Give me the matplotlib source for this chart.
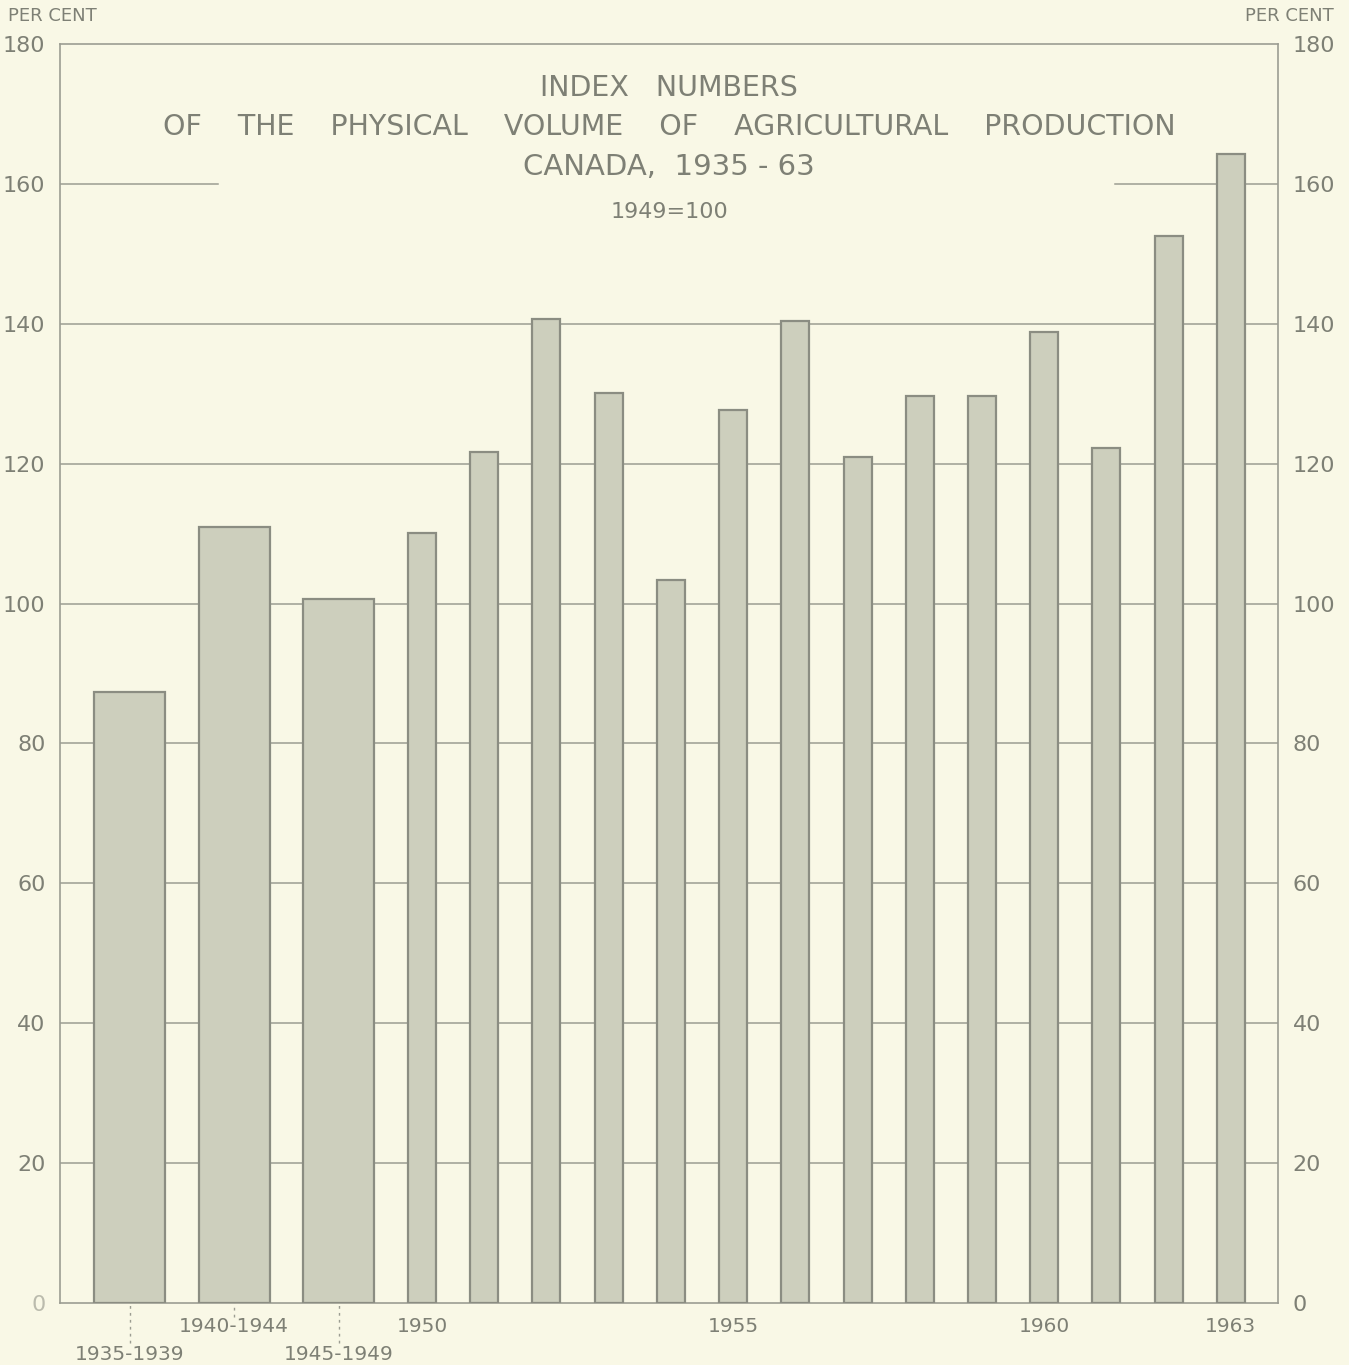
import numpy as np
import matplotlib
matplotlib.use('Agg')
import matplotlib.pyplot as plt

matplotlib.rcParams['font.family'] = 'DejaVu Sans'

# five-year averages, then single years (1949 = 100)
period_labels = ['1935-1939', '1940-1944', '1945-1949']
period_values = [87.4, 111.0, 100.7]
years = [1950, 1951, 1952, 1953, 1954, 1955, 1956, 1957, 1958, 1959,
         1960, 1961, 1962, 1963]
year_values = [110.1, 121.7, 140.7, 130.1, 103.3, 127.7, 140.4, 121.0,
               129.7, 129.7, 138.8, 122.2, 152.5, 164.3]
year_ticks = [1950, 1955, 1960, 1963]
y_ticks = [0, 20, 40, 60, 80, 100, 120, 140, 160, 180]

BG = '#f9f8e6'
FILL = '#cdcfbd'
EDGE = '#8b8d82'
INK = '#7e8075'
GRID = '#9c9d92'

# period bars sit to the left of 1950, spaced 1.68 year-units apart
period_x = 1950 - 4.70 + 1.68 * np.arange(len(period_labels))

fig = plt.figure(figsize=(13.49, 13.65), dpi=100, facecolor=BG)
ax = fig.add_axes([0.0445, 0.0454, 0.9029, 0.9224], facecolor=BG)

ax.bar(period_x, period_values, width=1.14, color=FILL, edgecolor=EDGE,
       linewidth=1.6, zorder=3)
ax.bar(years, year_values, width=0.45, color=FILL, edgecolor=EDGE,
       linewidth=1.6, zorder=3)

ax.set_xlim(1944.18, 1963.76)
ax.set_ylim(0, 180)

for v in y_ticks[1:-2]:
    ax.axhline(v, color=GRID, lw=1.1, zorder=1)
# 160 line broken by the title
ax.axhline(160, xmin=0, xmax=0.130, color=GRID, lw=1.1, zorder=1)
ax.axhline(160, xmin=0.866, xmax=1, color=GRID, lw=1.1, zorder=1)

for s in ax.spines.values():
    s.set_color(GRID)
    s.set_linewidth(1.2)

ax.set_yticks(y_ticks)
ax.set_yticklabels([str(v) for v in y_ticks])
ax.tick_params(axis='y', left=False, right=False, labelleft=True,
               labelright=True, labelsize=16, labelcolor=INK, pad=7)
ax.get_yticklabels()[0].set_alpha(0.5)

xt = list(period_x) + year_ticks
xl = period_labels + [str(y) for y in year_ticks]
ax.set_xticks(xt)
ax.set_xticklabels(xl)
ax.tick_params(axis='x', length=0, labelsize=14.5, labelcolor=INK, pad=10)
ticks = ax.xaxis.get_major_ticks()
ticks[0].set_pad(30)
ticks[2].set_pad(30)

# dotted leaders from the axis to the period labels
ax.vlines(period_x[[0, 2]], -0.032, 0, transform=ax.get_xaxis_transform(),
          colors=GRID, linestyles=(0, (2, 3)), lw=1, clip_on=False)
ax.vlines(period_x[1], -0.011, 0, transform=ax.get_xaxis_transform(),
          colors=GRID, linestyles=(0, (2, 3)), lw=1, clip_on=False)

cx = 0.5 * (60 + 1278) / 1349
fig.text(cx, 1 - 88 / 1365, 'INDEX   NUMBERS', ha='center', va='center',
         fontsize=20.5, color=INK)
fig.text(cx, 1 - 127 / 1365,
         'OF    THE    PHYSICAL    VOLUME    OF    AGRICULTURAL    PRODUCTION',
         ha='center', va='center', fontsize=20.5, color=INK)
fig.text(cx, 1 - 167 / 1365, 'CANADA,  1935 - 63', ha='center', va='center',
         fontsize=21, color=INK)
fig.text(cx, 1 - 212 / 1365, '1949=100', ha='center', va='center',
         fontsize=16, color=INK)

fig.text(8 / 1349, 1 - 16 / 1365, 'PER CENT', ha='left', va='center',
         fontsize=13, color=INK)
fig.text(1334 / 1349, 1 - 16 / 1365, 'PER CENT', ha='right', va='center',
         fontsize=13, color=INK)

fig.savefig('out.png', dpi=100, facecolor=BG)
